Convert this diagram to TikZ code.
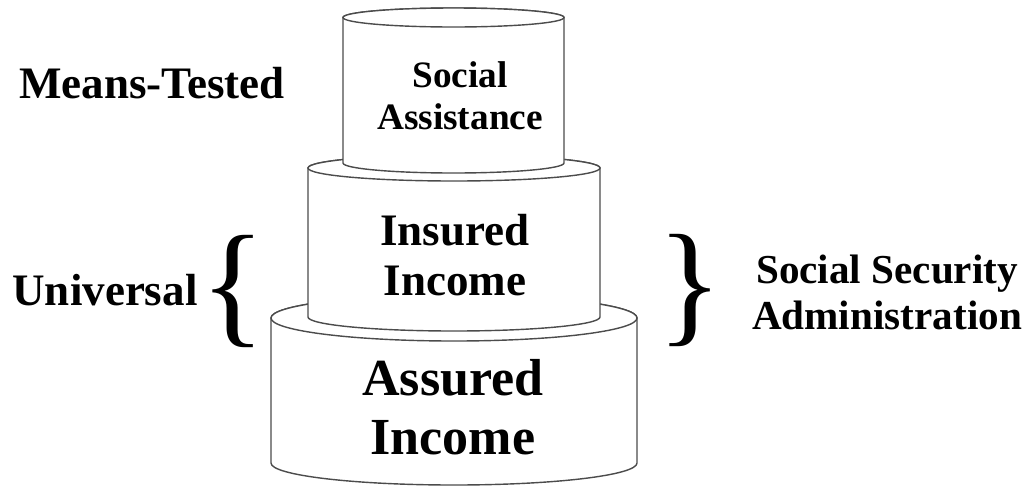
\documentclass[tikz,border=0pt]{standalone}
\usepackage{fontspec}
\setmainfont{Liberation Serif}
\usetikzlibrary{positioning}

\begin{document}
\begin{tikzpicture}[x=0.01cm,y=0.01cm,node distance=0.2cm,
	cake/.style={draw=black!70,line width=0.4pt,fill=white},
	side/.style={font=\bfseries\fontsize{12.8}{14.3}\selectfont,align=center,inner sep=0pt},
	curly/.style={font=\fontsize{38.6}{40}\selectfont,inner sep=0pt}]
	\useasboundingbox (0,0) rectangle (1028,487);
	
	% tiers, bottom first
	\foreach \c/\r/\yt/\ryt/\yb/\ryb in {454/183/169/23/24/22, 454/146/319/13/170/14, 453.5/110.5/469.5/9.5/324/10}
	{
		\filldraw[cake] (\c-\r,\yb) -- (\c-\r,\yt) arc[start angle=180,end angle=0,x radius=\r,y radius=\ryt]
			-- (\c+\r,\yb) arc[start angle=0,end angle=-180,x radius=\r,y radius=\ryb] -- cycle;
		\draw[cake] (\c,\yt) ellipse[x radius=\r,y radius=\ryt];
	}
	
	\node (socassist) [side,font=\bfseries\fontsize{10.6}{11.9}\selectfont] at (460,391) {Social\\Assistance};
	\node (insured)   [side] at (455,232) {Insured\\Income};
	\node (assured)   [side,font=\bfseries\fontsize{14.8}{16.6}\selectfont] at (453,80) {Assured\\Income};
	
	\node (means)     [side] at (152,404) {Means-Tested};
	\node (lbrace)    [curly] at (233,196) {\{};
	\node (universal) [side] at (105,197) {Universal};
	\node (rbrace)    [curly] at (690,197) {\}};
	\node (ssa)       [side,font=\bfseries\fontsize{11.7}{13.1}\selectfont] at (887,195) {Social Security\\Administration};
\end{tikzpicture}
\end{document}
